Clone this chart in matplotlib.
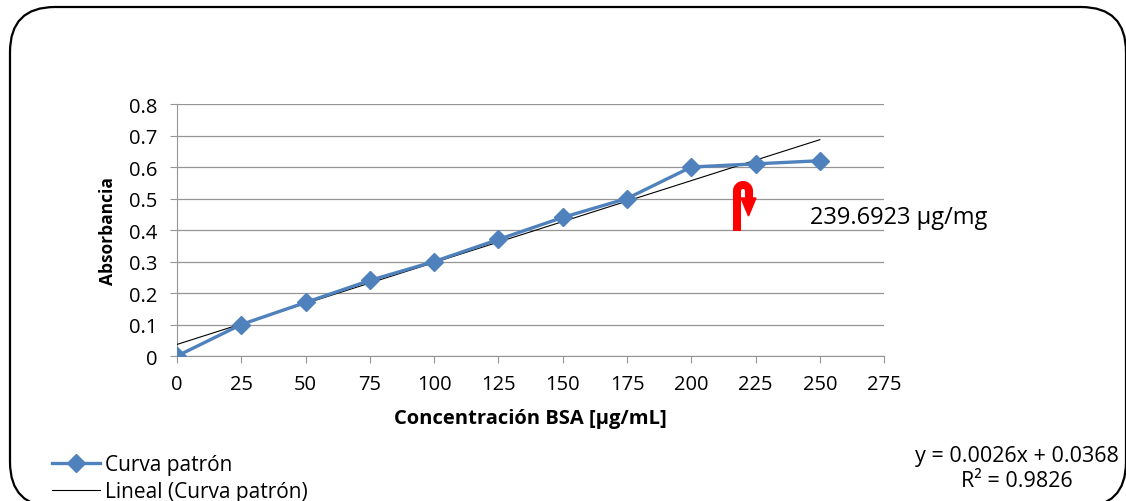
import matplotlib.pyplot as plt
import numpy as np
from matplotlib.patches import FancyBboxPatch, Polygon
from matplotlib.lines import Line2D

conc = [0, 25, 50, 75, 100, 125, 150, 175, 200, 225, 250]
absorb = [0.0, 0.10, 0.17, 0.24, 0.30, 0.37, 0.44, 0.50, 0.60, 0.61, 0.62]
slope = 0.0026
intercept = 0.0368
r2 = 0.9826
result_label = '239.6923 µg/mg'

plt.rcParams['font.family'] = ['Open Sans', 'DejaVu Sans']

W, H = 1126, 502


def px(x, y):
    # figure pixel (from top-left) -> figure fraction
    return x / W, 1 - y / H


fig = plt.figure(figsize=(W / 100, H / 100), dpi=100)
ax = fig.add_axes([0.1572, 0.2888, 0.6280, 0.502])

# rounded frame around the chart (cut off at right and bottom like the original)
frame = FancyBboxPatch(px(10, 508), 1116 / W, 500 / H, boxstyle='round,pad=0,rounding_size=0.04',
                       transform=fig.transFigure, fill=False, ec='black', lw=1.6,
                       mutation_aspect=W / H)
fig.patches.append(frame)

xs = np.array([conc[0], conc[-1]])
ax.plot(xs, slope * xs + intercept, color='black', lw=0.8, label='Lineal (Curva patrón)', zorder=3)
ax.plot(conc, absorb, color='#4F81BD', lw=2.4, marker='D', markersize=9,
        label='Curva patrón', zorder=4)

ax.set_xlim(0, 275)
ax.set_ylim(0, 0.8)
ax.set_xticks(range(0, 276, 25))
ax.set_yticks(np.arange(0, 0.81, 0.1))
ax.set_yticklabels(['0', '0.1', '0.2', '0.3', '0.4', '0.5', '0.6', '0.7', '0.8'])
ax.grid(axis='y', color='#959595', lw=0.9)
ax.set_axisbelow(True)
for s in ['top', 'right']:
    ax.spines[s].set_visible(False)
for s in ['left', 'bottom']:
    ax.spines[s].set_color('#959595')
ax.tick_params(axis='both', colors='#959595', labelcolor='black', labelsize=14.5, length=5)
ax.tick_params(axis='x', pad=8)
ax.tick_params(axis='y', pad=9)
ax.set_xlabel('Concentración BSA [µg/mL]', fontsize=14.5, fontweight='bold', labelpad=10)
ax.set_ylabel('Absorbancia', fontsize=12.5, fontweight='bold', labelpad=9)

# red hook arrow
t = np.linspace(np.pi, 0, 30)
hx = [737, 737] + list(743 + 6 * np.cos(t)) + [749, 749]
hy = [232, 192] + list(192 - 6 * np.sin(t)) + [192, 201]
hook = np.array([px(a, b) for a, b in zip(hx, hy)])
fig.lines.append(Line2D(hook[:, 0], hook[:, 1], transform=fig.transFigure, color='red',
                        lw=5.8, solid_capstyle='butt', solid_joinstyle='round'))
head = Polygon([px(741, 199), px(756, 199), px(748.5, 217)], closed=True,
               transform=fig.transFigure, color='red')
fig.patches.append(head)

fig.text(*px(810, 218), result_label, fontsize=17, va='center', ha='left')
fig.text(*px(1017, 457), 'y = %.4fx + %.4f' % (slope, intercept), fontsize=15.5,
         ha='center', va='center')
fig.text(*px(1017, 482), 'R² = %.4f' % r2, fontsize=15.5, ha='center', va='center')

h, l = ax.get_legend_handles_labels()
fig.legend(h[::-1], l[::-1], loc='center left', bbox_to_anchor=px(52, 479), frameon=False,
           fontsize=15, handlelength=2.3, handletextpad=0.25, labelspacing=0.3,
           borderaxespad=0, borderpad=0)

fig.savefig('out.png', dpi=100)
